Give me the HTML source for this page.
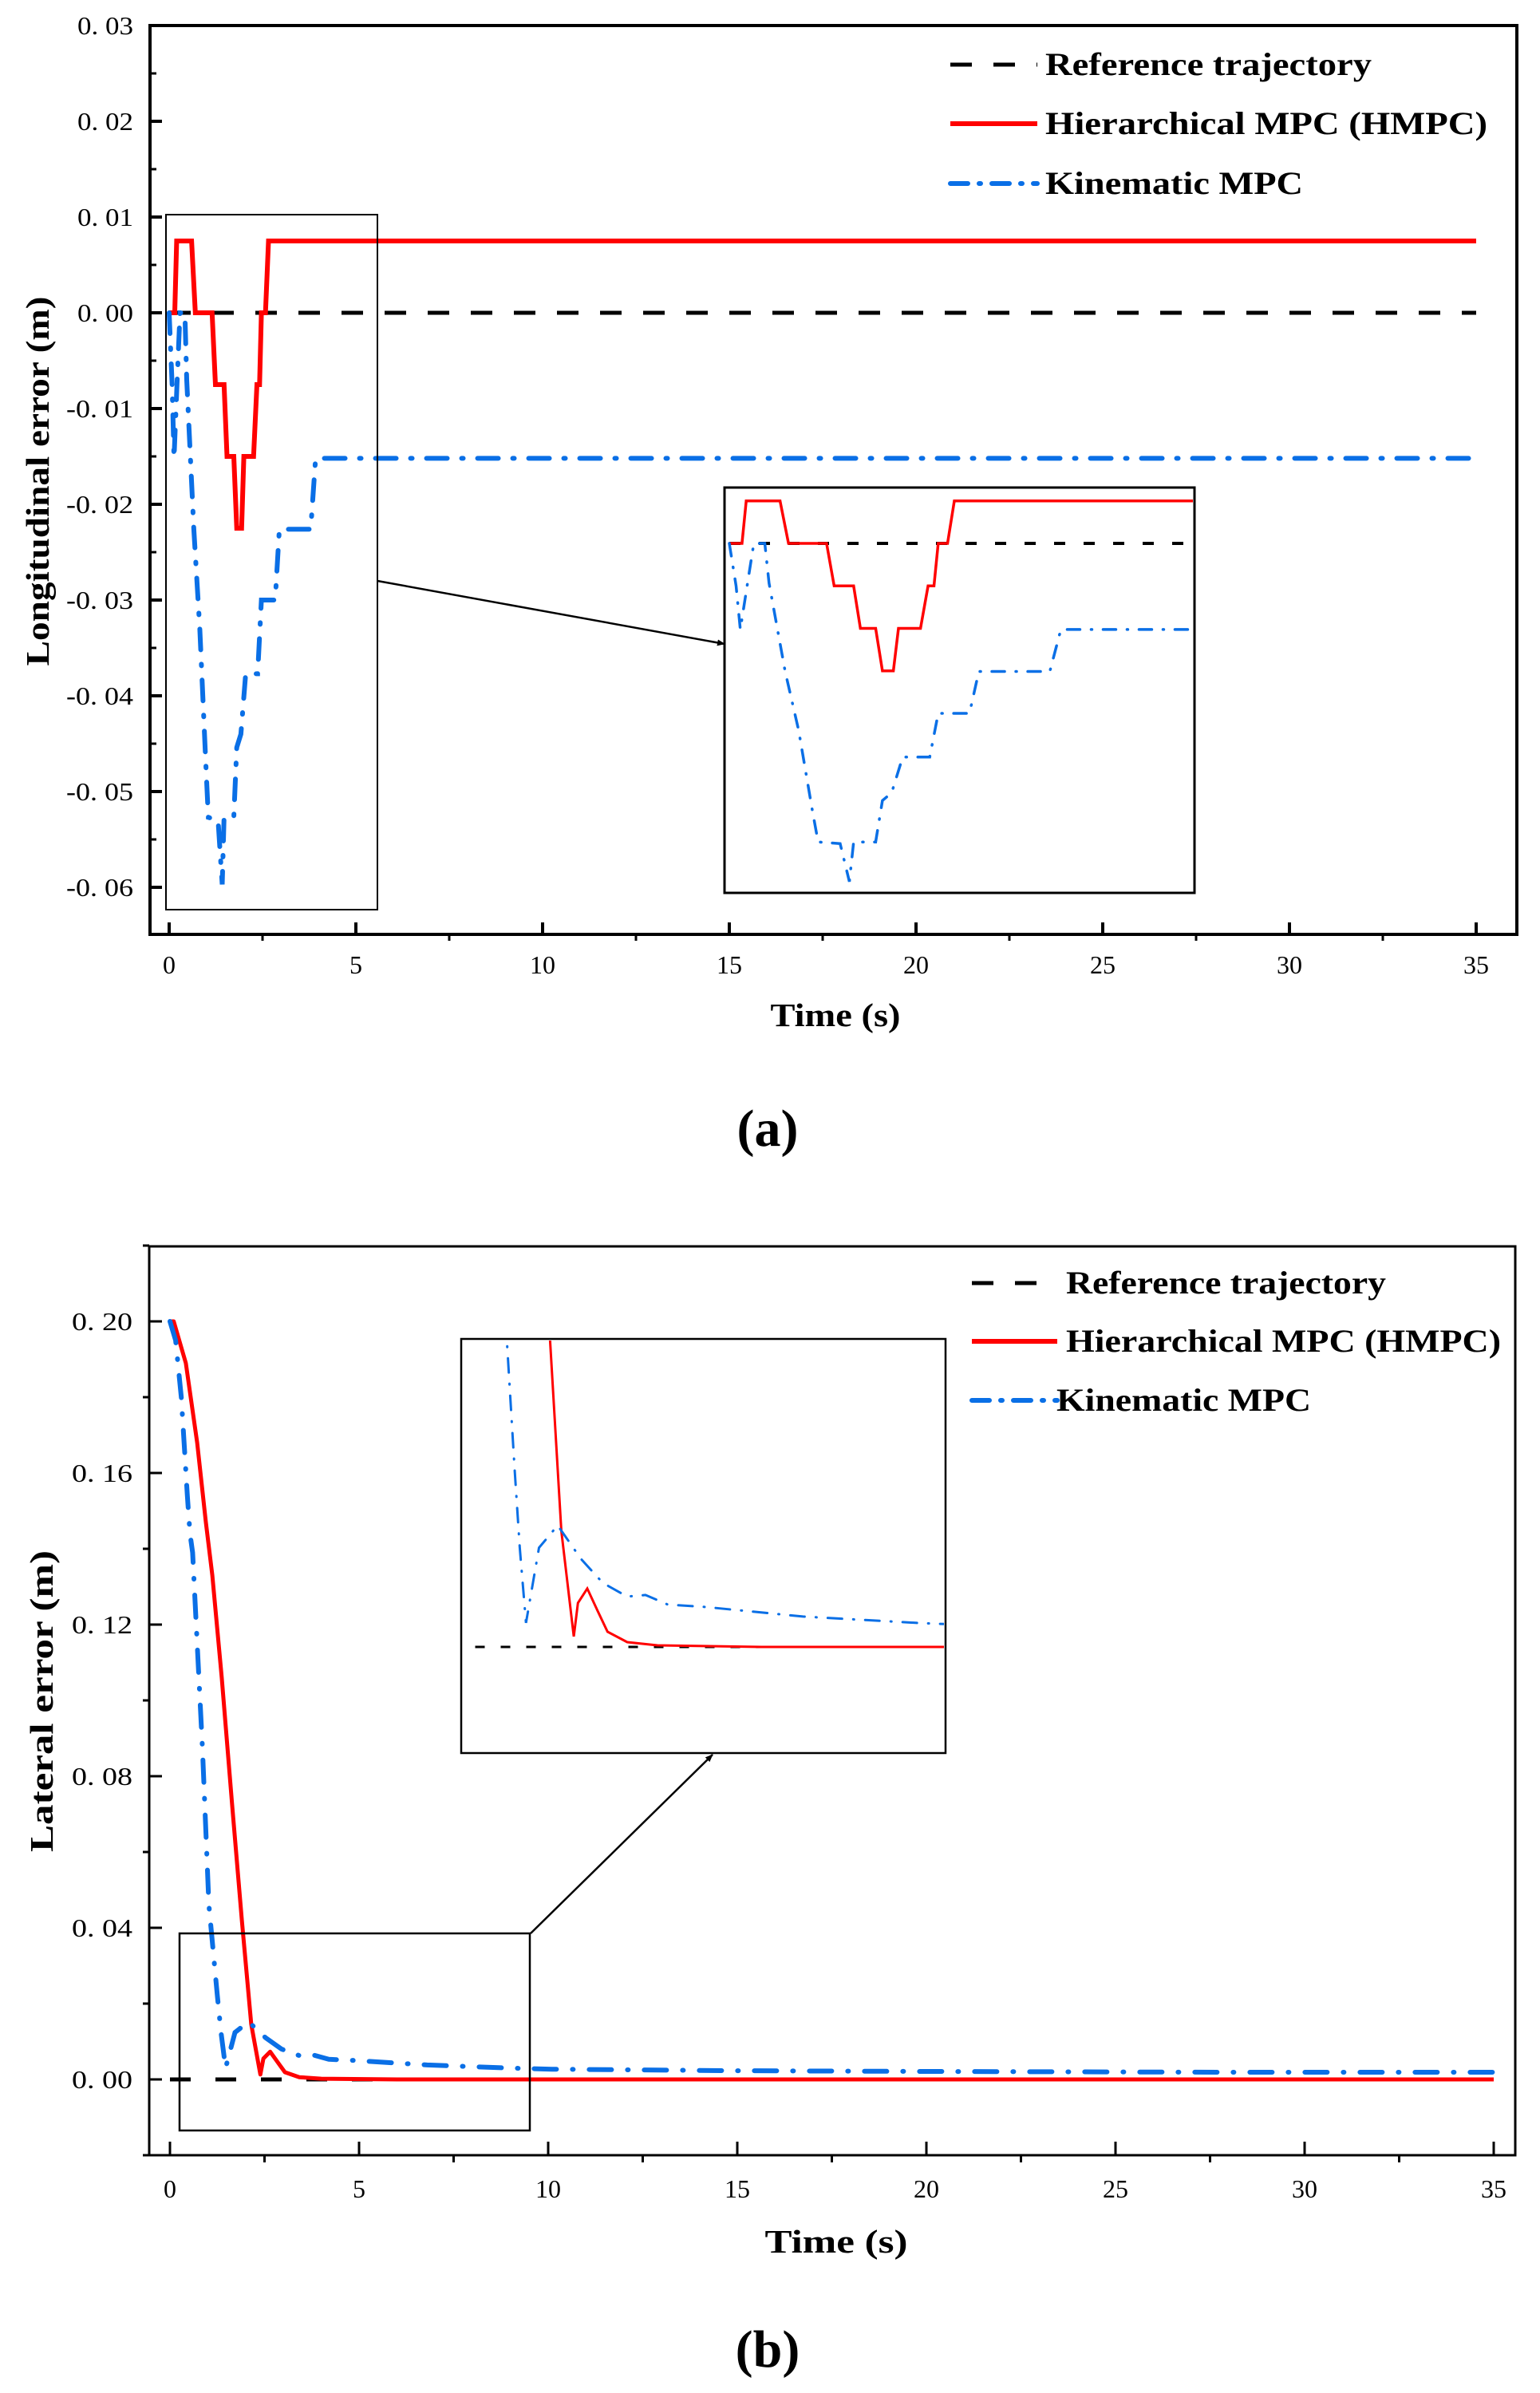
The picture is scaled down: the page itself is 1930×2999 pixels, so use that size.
<!DOCTYPE html>
<html><head><meta charset="utf-8"><style>
html,body{margin:0;padding:0;background:#fff}
svg{display:block}
.tk{font-family:"Liberation Serif",serif;font-size:32px;fill:#000}
.ti{font-family:"Liberation Serif",serif;font-weight:bold;font-size:41px;fill:#000}
.lg{font-family:"Liberation Serif",serif;font-weight:bold;font-size:40px;fill:#000}
.cap{font-family:"Liberation Serif",serif;font-weight:bold;font-size:66px;fill:#000}
</style></head><body>
<svg id="fig" width="1930" height="2999" viewBox="0 0 1930 2999" xmlns="http://www.w3.org/2000/svg">
<defs>
<clipPath id="clipA"><rect x="908" y="612" width="587" height="506"/></clipPath>
<clipPath id="clipB"><rect x="579" y="1680" width="604" height="515"/></clipPath>
<clipPath id="plotA"><rect x="190" y="34" width="1709" height="1135"/></clipPath>
<clipPath id="plotB"><rect x="189" y="1564" width="1708" height="1135"/></clipPath>
<marker id="arr" markerWidth="10" markerHeight="8" refX="9" refY="4" orient="auto" markerUnits="userSpaceOnUse"><path d="M0,0 L10,4 L0,8 z" fill="#000"/></marker>
</defs>
<g id="chartA"></g>
<g id="chartB"></g>
</svg>
<script>
// ---- Chart (a) data ----
const aTicksX = [0,5,10,15,20,25,30,35];
const aTicksY = [0.03,0.02,0.01,0.00,-0.01,-0.02,-0.03,-0.04,-0.05,-0.06];
const aTickLabelsY = ["0. 03","0. 02","0. 01","0. 00","-0. 01","-0. 02","-0. 03","-0. 04","-0. 05","-0. 06"];
const aRefT = [0,35];
const aRefV = [0,0];
const aHmpcT = [0,0.15,0.2,0.6,0.7,1.15,1.24,1.47,1.55,1.73,1.81,1.94,2.0,2.26,2.35,2.42,2.47,2.58,2.66,35];
const aHmpcV = [0,0,0.0075,0.0075,0,0,-0.0075,-0.0075,-0.015,-0.015,-0.0225,-0.0225,-0.015,-0.015,-0.0075,-0.0075,0,0,0.0075,0.0075];
const aKinT = [0,0.08,0.13,0.21,0.29,0.42,0.47,0.66,0.82,0.98,1.05,1.31,1.42,1.47,1.73,1.81,1.92,2.05,2.37,2.47,2.84,2.95,3.79,3.92,35];
const aKinV = [0,-0.0075,-0.0152,-0.0075,0,0,-0.007,-0.0226,-0.033,-0.047,-0.0527,-0.053,-0.0597,-0.0527,-0.0527,-0.0454,-0.044,-0.0377,-0.0377,-0.030,-0.030,-0.0226,-0.0226,-0.0152,-0.0152];
// ---- Chart (b) data ----
const bTicksX = [0,5,10,15,20,25,30,35];
const bTicksY = [0.20,0.16,0.12,0.08,0.04,0.00];
const bTickLabelsY = ["0. 20","0. 16","0. 12","0. 08","0. 04","0. 00"];
const bRefT = [0,35];
const bRefV = [0,0];
const bHmpcT = [0,0.1,0.42,0.72,0.95,1.12,1.37,1.64,1.9,2.15,2.39,2.47,2.65,2.85,3.04,3.42,4.0,6.0,35];
const bHmpcV = [0.2,0.2,0.189,0.168,0.147,0.133,0.106,0.073,0.042,0.0145,0.0013,0.0055,0.0073,0.0045,0.0019,0.0006,0.0002,0,0];
const bKinT = [0,0.15,0.3,0.46,0.53,0.6,0.86,1.03,1.25,1.35,1.47,1.72,2.08,2.53,2.95,3.42,3.77,4.2,4.92,6.8,9.0,10.1,15,20,28,35];
const bKinV = [0.2,0.195,0.18,0.154,0.144,0.139,0.087,0.046,0.0223,0.0124,0.003,0.0124,0.0152,0.011,0.008,0.0063,0.0065,0.0053,0.005,0.0038,0.003,0.0027,0.0023,0.0021,0.0019,0.0019];

const NS = "http://www.w3.org/2000/svg";
function mk(parent, tag, attrs){ const e=document.createElementNS(NS,tag); for(const k in attrs) e.setAttribute(k,attrs[k]); parent.appendChild(e); return e; }
function pathD(T,V,sx,sy){ return T.map((t,i)=>(i?"L":"M")+sx(t).toFixed(1)+","+sy(V[i]).toFixed(1)).join(" "); }

// ===== Chart A =====
(function(){
  const g=document.getElementById('chartA');
  const sx=t=>212+46.8*t, sy=v=>392-12000*v;
  const ix=t=>914+106*t, iy=v=>681-7100*v;
  const fr=mk(g,'rect',{x:188,y:32,width:1713,height:1139,fill:'none',stroke:'#000','stroke-width':4});
  
  
  aTicksY.forEach((v,i)=>{
    const t=mk(g,'line',{x1:188,x2:203,y1:sy(v),y2:sy(v),stroke:'#000','stroke-width':4});
    
    
    if(i<aTicksY.length-1){ const m=mk(g,'line',{x1:188,x2:196,y1:sy(v-0.005),y2:sy(v-0.005),stroke:'#000','stroke-width':3});
      
       }
    const lb=mk(g,'text',{x:167,y:sy(v)+11,'text-anchor':'end',class:'tk',textLength:aTickLabelsY[i].length>5?84:70,lengthAdjust:'spacingAndGlyphs'}); lb.textContent=aTickLabelsY[i];
    
    
  });
  aTicksX.forEach((t,i)=>{
    const k=mk(g,'line',{x1:sx(t),x2:sx(t),y1:1171,y2:1156,stroke:'#000','stroke-width':4});
    
    
    if(i<aTicksX.length-1){ const m=mk(g,'line',{x1:sx(t+2.5),x2:sx(t+2.5),y1:1171,y2:1179,stroke:'#000','stroke-width':3});
      
       }
    const lb=mk(g,'text',{x:sx(t),y:1220,'text-anchor':'middle',class:'tk'}); lb.textContent=String(t);
    
    
  });
  const xt=mk(g,'text',{x:1047,y:1286,'text-anchor':'middle',class:'ti',textLength:163,lengthAdjust:'spacingAndGlyphs'}); xt.textContent='Time (s)';
  
  
  const yt=mk(g,'text',{x:0,y:0,'text-anchor':'middle',class:'ti',textLength:463,lengthAdjust:'spacingAndGlyphs',transform:'translate(61,603) rotate(-90)'}); yt.textContent='Longitudinal error (m)';
  
  
  const pg=mk(g,'g',{'clip-path':'url(#plotA)'});
  const r=mk(pg,'path',{d:pathD(aRefT,aRefV,sx,sy),fill:'none',stroke:'#000','stroke-width':5,'stroke-dasharray':'27 27'});
  
  
  const h=mk(pg,'path',{d:pathD(aHmpcT,aHmpcV,sx,sy),fill:'none',stroke:'#ff0000','stroke-width':6});
  
  
  const kk=mk(pg,'path',{d:pathD(aKinT,aKinV,sx,sy),fill:'none',stroke:'#0a6fe6','stroke-width':6,'stroke-dasharray':'26 18 2 18','stroke-linecap':'round'});
  
  
  const zb=mk(g,'rect',{x:208,y:269,width:265,height:871,fill:'none',stroke:'#000','stroke-width':2});
  
  
  const ar=mk(g,'line',{x1:473,y1:728,x2:908,y2:807,stroke:'#000','stroke-width':2.5,'marker-end':'url(#arr)'});
  
  
  const ib=mk(g,'rect',{x:908,y:611,width:589,height:508,fill:'#fff',stroke:'#000','stroke-width':3});
  
  
  const ig=mk(g,'g',{'clip-path':'url(#clipA)'});
  
  
  mk(ig,'path',{d:pathD(aRefT,aRefV,ix,iy),fill:'none',stroke:'#000','stroke-width':4,'stroke-dasharray':'14 23'});
  mk(ig,'path',{d:pathD(aHmpcT,aHmpcV,ix,iy),fill:'none',stroke:'#ff0000','stroke-width':3.5});
  mk(ig,'path',{d:pathD(aKinT,aKinV,ix,iy),fill:'none',stroke:'#0a6fe6','stroke-width':3.5,'stroke-dasharray':'16 14 1 14','stroke-linecap':'round'});
  const L=[['Reference trajectory',81,'#000','27 27',409],['Hierarchical MPC (HMPC)',155,'#ff0000','',554],['Kinematic MPC',230,'#0a6fe6','22 14 2 14',323]];
  const names=['legend-reference','legend-hmpc','legend-kinematic'];
  L.forEach((e,i)=>{
    const lg=mk(g,'g',{});
    
    
    mk(lg,'line',{x1:1191,x2:1300,y1:e[1],y2:e[1],stroke:e[2],'stroke-width':i==0?5:6,'stroke-dasharray':e[3]||'none','stroke-linecap':i==2?'round':'butt'});
    const tx=mk(lg,'text',{x:1310,y:e[1]+13,class:'lg',textLength:e[4],lengthAdjust:'spacingAndGlyphs'}); tx.textContent=e[0];
  });
  const cap=mk(g,'text',{x:962,y:1436,'text-anchor':'middle',class:'cap'}); cap.textContent='(a)';
  
  
})();

// ===== Chart B =====
(function(){
  const g=document.getElementById('chartB');
  const sx=t=>213+47.4*t, sy=v=>2606-4750*v;
  const ix=t=>563.5+65.1*t, iy=v=>2064-10022*v;
  const fr=mk(g,'rect',{x:187,y:1562,width:1712,height:1139,fill:'none',stroke:'#000','stroke-width':3});
  
  
  bTicksY.forEach((v,i)=>{
    const t=mk(g,'line',{x1:187,x2:203,y1:sy(v),y2:sy(v),stroke:'#000','stroke-width':3});
    
    
    const m=mk(g,'line',{x1:179,x2:187,y1:sy(v+0.02),y2:sy(v+0.02),stroke:'#000','stroke-width':3});
    
    
    const lb=mk(g,'text',{x:166,y:sy(v)+11,'text-anchor':'end',class:'tk',textLength:76,lengthAdjust:'spacingAndGlyphs'}); lb.textContent=bTickLabelsY[i];
    
    
  });
  { const m=mk(g,'line',{x1:179,x2:187,y1:sy(-0.02),y2:sy(-0.02),stroke:'#000','stroke-width':3});
    
     }
  bTicksX.forEach((t,i)=>{
    const k=mk(g,'line',{x1:sx(t),x2:sx(t),y1:2701,y2:2684,stroke:'#000','stroke-width':3});
    
    
    if(i<bTicksX.length-1){ const m=mk(g,'line',{x1:sx(t+2.5),x2:sx(t+2.5),y1:2701,y2:2710,stroke:'#000','stroke-width':3});
      
       }
    const lb=mk(g,'text',{x:sx(t),y:2754,'text-anchor':'middle',class:'tk'}); lb.textContent=String(t);
    
    
  });
  const xt=mk(g,'text',{x:1048,y:2823,'text-anchor':'middle',class:'ti',textLength:179,lengthAdjust:'spacingAndGlyphs'}); xt.textContent='Time (s)';
  
  
  const yt=mk(g,'text',{x:0,y:0,'text-anchor':'middle',class:'ti',textLength:378,lengthAdjust:'spacingAndGlyphs',transform:'translate(66,2132) rotate(-90)'}); yt.textContent='Lateral error (m)';
  
  
  const pg=mk(g,'g',{'clip-path':'url(#plotB)'});
  const r=mk(pg,'path',{d:pathD(bRefT,bRefV,sx,sy),fill:'none',stroke:'#000','stroke-width':5,'stroke-dasharray':'26 31'});
  
  
  const h=mk(pg,'path',{d:pathD(bHmpcT,bHmpcV,sx,sy),fill:'none',stroke:'#ff0000','stroke-width':5,'stroke-linejoin':'round'});
  
  
  const kk=mk(pg,'path',{d:pathD(bKinT,bKinV,sx,sy),fill:'none',stroke:'#0a6fe6','stroke-width':6,'stroke-dasharray':'28 20 1 20','stroke-linecap':'round'});
  
  
  const zb=mk(g,'rect',{x:225,y:2423,width:439,height:247,fill:'none',stroke:'#000','stroke-width':2.5});
  
  
  const ar=mk(g,'line',{x1:665,y1:2423,x2:893,y2:2199,stroke:'#000','stroke-width':2.5,'marker-end':'url(#arr)'});
  
  
  const ib=mk(g,'rect',{x:578,y:1678,width:607,height:519,fill:'#fff',stroke:'#000','stroke-width':2.5});
  
  
  const ig=mk(g,'g',{'clip-path':'url(#clipB)'});
  
  
  mk(ig,'path',{d:pathD(bRefT,bRefV,ix,iy),fill:'none',stroke:'#000','stroke-width':3,'stroke-dasharray':'12 20'});
  mk(ig,'path',{d:pathD(bHmpcT,bHmpcV,ix,iy),fill:'none',stroke:'#ff0000','stroke-width':3});
  mk(ig,'path',{d:pathD(bKinT,bKinV,ix,iy),fill:'none',stroke:'#0a6fe6','stroke-width':3,'stroke-dasharray':'18 14 1 14','stroke-linecap':'round'});
  const L=[['Reference trajectory',1608,'#000','27 27',401,1336],['Hierarchical MPC (HMPC)',1681,'#ff0000','',545,1336],['Kinematic MPC',1755,'#0a6fe6','22 14 2 14',319,1324]];
  const names=['legend-reference','legend-hmpc','legend-kinematic'];
  L.forEach((e,i)=>{
    const lg=mk(g,'g',{});
    
    
    mk(lg,'line',{x1:1218,x2:1325,y1:e[1],y2:e[1],stroke:e[2],'stroke-width':i==0?5:6,'stroke-dasharray':e[3]||'none','stroke-linecap':i==2?'round':'butt'});
    const tx=mk(lg,'text',{x:e[5],y:e[1]+13,class:'lg',textLength:e[4],lengthAdjust:'spacingAndGlyphs'}); tx.textContent=e[0];
  });
  const cap=mk(g,'text',{x:962,y:2966,'text-anchor':'middle',class:'cap'}); cap.textContent='(b)';
  
  
})();
</script>
</body></html>
